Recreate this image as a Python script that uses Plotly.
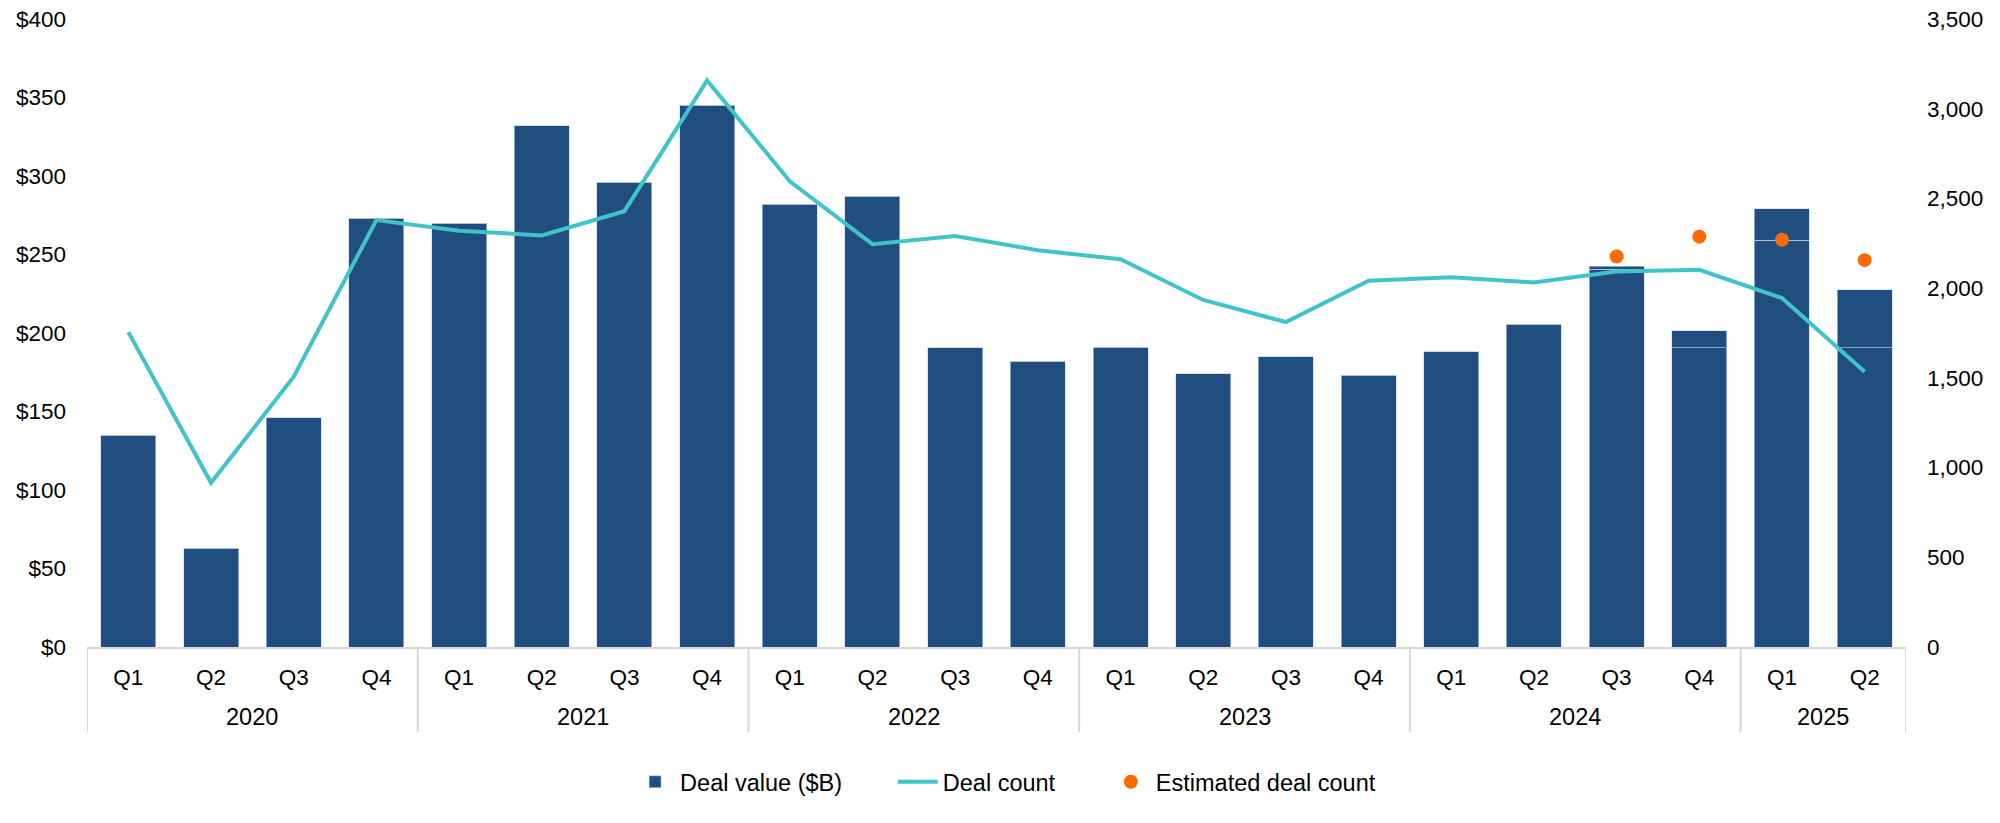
import plotly.graph_objects as go

years = ["2020"] * 4 + ["2021"] * 4 + ["2022"] * 4 + ["2023"] * 4 + ["2024"] * 4 + ["2025"] * 2
quarters = ["Q1", "Q2", "Q3", "Q4"] * 5 + ["Q1", "Q2"]

# Deal value ($B): lower segment and upper segment (same colour, stacked)
deal_value_base = [135, 63, 146, 273,
                   270, 332, 296, 345,
                   282, 287, 190.5, 182,
                   191, 174, 185, 173,
                   188, 205.5, 240.7, 190.5,
                   259, 190.5]
deal_value_top = [0, 0, 0, 0,
                  0, 0, 0, 0,
                  0, 0, 0, 0,
                  0, 0, 0, 0,
                  0, 0, 1.9, 10.8,
                  20, 37]

deal_count = [1755, 915, 1506, 2379,
              2320, 2294, 2429, 3158,
              2595, 2245, 2291, 2211,
              2161, 1934, 1811, 2041,
              2061, 2032, 2093, 2102,
              1945, 1534]

est_deal_count = [None] * 18 + [2176, 2287, 2270, 2156]

BAR = "#1F4E7F"
LINE = "#41C3CA"
ORANGE = "#FF6A00"
GRID = "#D9D9D9"
FONT = "Arial, Liberation Sans, sans-serif"
PAD = "\u00a0" * 7  # extra spacing after legend labels

# unique category keys, quarter shown as tick text
cats = [f"{y} {q}" for y, q in zip(years, quarters)]

fig = go.Figure()
fig.add_trace(go.Bar(
    x=cats, y=deal_value_base, name="Deal value ($B)" + PAD,
    marker=dict(color=BAR, line=dict(color="rgba(200,215,235,0.6)", width=1)),
    yaxis="y",
))
fig.add_trace(go.Bar(
    x=cats, y=deal_value_top, name="Deal value upper", showlegend=False,
    marker=dict(color=BAR, line=dict(color="rgba(200,215,235,0.6)", width=1)),
    yaxis="y",
))
fig.add_trace(go.Scatter(
    x=cats, y=deal_count, name="Deal count" + PAD, mode="lines",
    line=dict(color=LINE, width=4), yaxis="y2",
))
fig.add_trace(go.Scatter(
    x=cats, y=est_deal_count, name="Estimated deal count", mode="markers",
    marker=dict(color=ORANGE, size=14), yaxis="y2",
))

# year group labels and dividers, derived from the years list
groups = []
start = 0
for i in range(1, len(years) + 1):
    if i == len(years) or years[i] != years[start]:
        groups.append((years[start], start, i - 1))
        start = i

annotations = []
shapes = []
for label, a, b in groups:
    annotations.append(dict(
        x=(a + b) / 2, xref="x", y=-0.1108, yref="paper", yanchor="middle",
        text=label, showarrow=False, font=dict(size=23.5, color="#000000"),
    ))
    shapes.append(dict(type="line", xref="x", yref="paper", x0=a - 0.5, x1=a - 0.5,
                       y0=0, y1=-0.136, line=dict(color=GRID, width=2)))
shapes.append(dict(type="line", xref="x", yref="paper", x0=len(years) - 0.5, x1=len(years) - 0.5,
                   y0=0, y1=-0.136, line=dict(color=GRID, width=2)))

fig.update_layout(
    width=2000, height=823,
    margin=dict(l=79, r=102, t=11, b=184),
    paper_bgcolor="white", plot_bgcolor="white",
    font=dict(family=FONT, size=22, color="#000000"),
    barmode="stack", bargap=0.335,
    showlegend=True,
    legend=dict(orientation="h", x=0.505, xanchor="center", y=-0.215, yanchor="middle",
                font=dict(size=23.5), itemwidth=40, traceorder="normal"),
    xaxis=dict(
        type="category", tickmode="array", tickvals=cats, ticktext=quarters,
        range=[-0.5, len(cats) - 0.5],
        showline=True, linecolor=GRID, linewidth=2,
        showgrid=False, ticks="", tickfont=dict(size=22.5),
        ticklabelstandoff=9, automargin=False,
    ),
    yaxis=dict(
        range=[0, 400], dtick=50, tickprefix="$", showgrid=False, zeroline=False,
        showline=False, ticks="", ticklabelstandoff=20, tickfont=dict(size=22.5),
        automargin=False, ticklabeloverflow="allow",
    ),
    yaxis2=dict(
        range=[0, 3500], dtick=500, tickformat=",", overlaying="y", side="right",
        showgrid=False, zeroline=False, showline=False, ticks="",
        ticklabelstandoff=20, tickfont=dict(size=22.5), automargin=False,
        ticklabeloverflow="allow",
    ),
    annotations=annotations,
    shapes=shapes,
)

fig.write_html("out.html")
